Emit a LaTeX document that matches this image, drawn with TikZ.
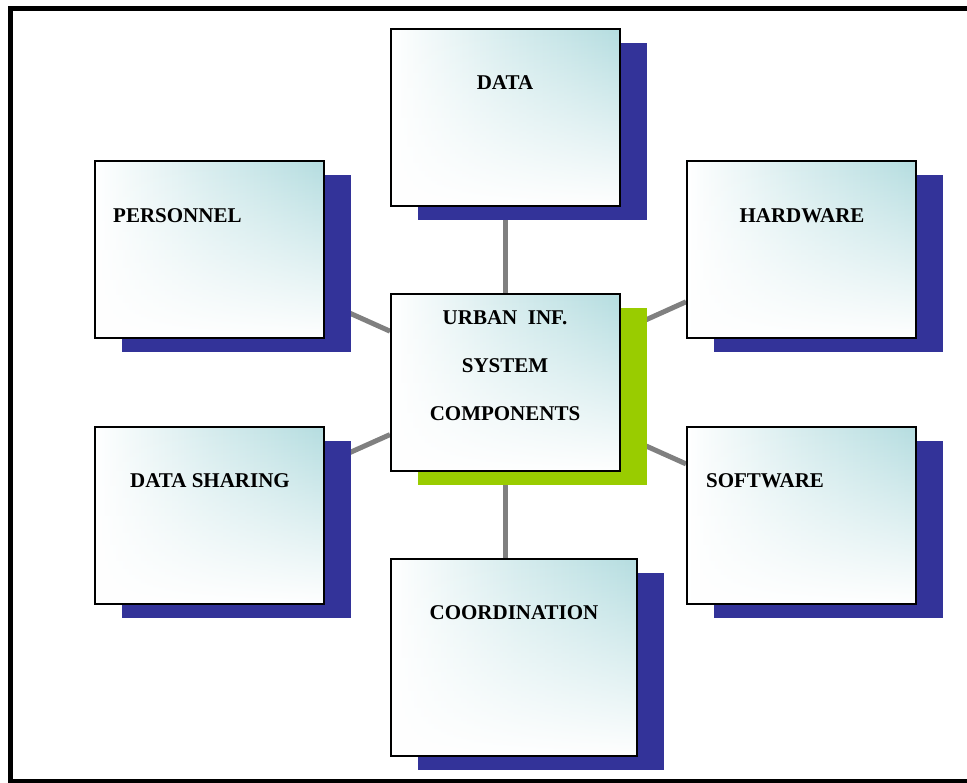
\documentclass[tikz,border=0pt]{standalone}
\usepackage{fontspec}
\setmainfont{Liberation Serif}
\usetikzlibrary{shadows,fadings,backgrounds}
\definecolor{sblue}{HTML}{333399}
\definecolor{sgreen}{HTML}{99CC00}
\definecolor{tealc}{HTML}{B5DDE0}
\definecolor{lgray}{HTML}{808080}
\tikzset{
  box/.style={draw=black, line width=2pt, minimum width=229pt, minimum height=177pt, inner sep=0pt,
    path picture={
      \shade[left color=white, right color=tealc, middle color=tealc!55]
        (path picture bounding box.south west) rectangle (path picture bounding box.north east);
      \fill[white, path fading=north]
        (path picture bounding box.south west) rectangle (path picture bounding box.north east);
    }},
  bshadow/.style={general shadow={fill=sblue, shadow xshift=27pt, shadow yshift=-14pt}},
  gshadow/.style={general shadow={fill=sgreen, shadow xshift=27pt, shadow yshift=-14pt}},
  lbl/.style={font=\fontsize{21}{25}\selectfont\bfseries, inner sep=0pt},
  link/.style={draw=lgray, line width=5pt}
}
\begin{document}
\begin{tikzpicture}[x=1pt, y=-1pt]
\clip (0,0) rectangle (967,783);
\draw[line width=5pt] (10.5,8.5) rectangle (990,781.5);

\node[box, bshadow] (data) at (505.5,117.5) {};
\node[box, bshadow] (pers) at (209,250) {};
\node[box, bshadow] (hard) at (801.5,250) {};
\node[box, bshadow] (share) at (209,515.5) {};
\node[box, bshadow] (soft) at (801.5,515.5) {};
\node[box, bshadow, minimum width=246pt, minimum height=197pt] (coord) at (514,657.5) {};
\node[box, gshadow] (center) at (505.5,383) {};

\begin{pgfonlayer}{background}
\draw[link] (center) -- (data);
\draw[link] (center) -- (pers);
\draw[link] (center) -- (hard);
\draw[link] (center) -- (share);
\draw[link] (center) -- (soft);
\draw[link] (center.south) -- (center.south |- coord.north);
\end{pgfonlayer}

\node[lbl] (tdata) at (505,83) {DATA};
\node[lbl, anchor=west] (tpers) at (113,216) {PERSONNEL};
\node[lbl] (thard) at (802,216) {HARDWARE};
\node[lbl] (tshare) at (210,481) {DATA SHARING};
\node[lbl] (tsoft) at (765,481) {SOFTWARE};
\node[lbl] (tcoord) at (514,613) {COORDINATION};
\node[lbl] (tc1) at (505,318) {URBAN\ \ INF.};
\node[lbl] (tc2) at (505,366) {SYSTEM};
\node[lbl] (tc3) at (505,414) {COMPONENTS};
\end{tikzpicture}
\end{document}
